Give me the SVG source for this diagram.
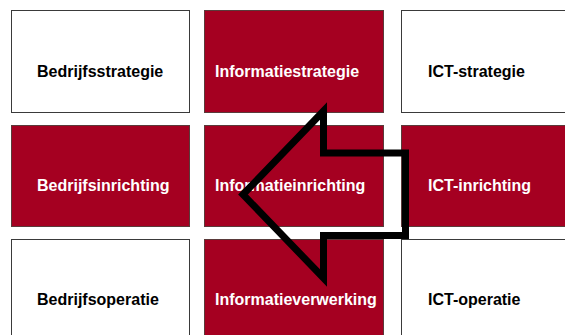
<svg xmlns="http://www.w3.org/2000/svg" width="565" height="335" viewBox="0 0 565 335">
<style>
.w{fill:#ffffff;stroke:#3a3a3a;stroke-width:1}
.r{fill:#a50021;stroke:#5a3a3a;stroke-width:1}
text{font-family:"Liberation Sans",Arial,sans-serif;font-weight:bold;font-size:16px}
.tw{fill:#000000}
.tr{fill:#ffffff}
</style>
<rect width="565" height="335" fill="#ffffff"/>
<g id="bedrijfsstrategie"><rect class="w" x="11.5" y="10.5" width="178" height="102"/><text class="tw" x="37" y="77">Bedrijfsstrategie</text></g>
<g id="informatiestrategie"><rect class="r" x="204.5" y="10.5" width="179" height="102"/><text class="tr" x="215" y="77">Informatiestrategie</text></g>
<g id="ict-strategie"><rect class="w" x="401.5" y="10.5" width="180" height="102"/><text class="tw" x="428" y="77">ICT-strategie</text></g>
<g id="bedrijfsinrichting"><rect class="r" x="11.5" y="125.5" width="178" height="101"/><text class="tr" x="37" y="191">Bedrijfsinrichting</text></g>
<g id="informatieinrichting"><rect class="r" x="204.5" y="125.5" width="179" height="101"/><text class="tr" x="215" y="191">Informatieinrichting</text></g>
<g id="ict-inrichting"><rect class="r" x="401.5" y="125.5" width="180" height="101"/><text class="tr" x="428" y="191">ICT-inrichting</text></g>
<g id="bedrijfsoperatie"><rect class="w" x="11.5" y="239.5" width="178" height="110"/><text class="tw" x="37" y="305">Bedrijfsoperatie</text></g>
<g id="informatieverwerking"><rect class="r" x="204.5" y="239.5" width="179" height="110"/><text class="tr" x="215" y="305">Informatieverwerking</text></g>
<g id="ict-operatie"><rect class="w" x="401.5" y="239.5" width="180" height="110"/><text class="tw" x="428" y="305">ICT-operatie</text></g>
<g id="connectors"><polygon points="243,194.5 323.5,111 323.5,153 405.5,153 405.5,235.5 323.5,235.5 323.5,278" fill="none" stroke="#000000" stroke-width="7" stroke-linejoin="miter" stroke-miterlimit="10"/></g>
</svg>
